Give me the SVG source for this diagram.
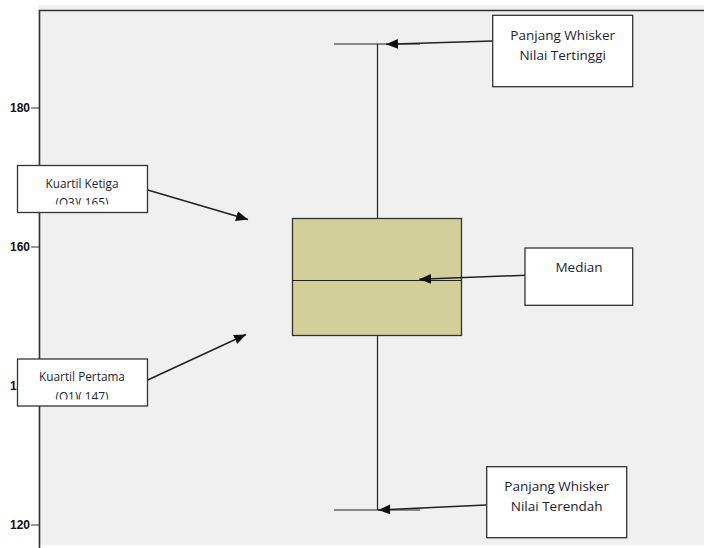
<svg xmlns="http://www.w3.org/2000/svg" width="704" height="548" viewBox="0 0 704 548">
<style>
.lbl{fill:#fff;stroke:#333;stroke-width:1.3}
.t{font-family:"Open Sans","Liberation Sans",sans-serif;fill:#222233;text-anchor:middle}
.ax{font-family:"Liberation Sans",Arial,sans-serif;font-weight:bold;font-size:12px;fill:#111;text-anchor:end}
.ln{stroke:#222;stroke-width:1.2;fill:none}
.ar{stroke:#222;stroke-width:1.5;fill:none;marker-end:url(#ah)}
</style>
<defs>
<marker id="ah" markerUnits="userSpaceOnUse" markerWidth="14" markerHeight="12" refX="12" refY="5" orient="auto">
<path d="M0,0 L12,5 L0,10 Z" fill="#111"/>
</marker>
<clipPath id="c1"><rect x="17" y="165" width="131" height="39.5"/></clipPath>
<clipPath id="c2"><rect x="17" y="359" width="131" height="40.5"/></clipPath>
</defs>
<rect x="0" y="0" width="704" height="548" fill="#fff"/>
<rect x="38" y="5" width="666" height="540" fill="#f0f0f0"/>
<g id="axis">
<path d="M39.5,548 V10.5 H704" stroke="#333" stroke-width="1.6" fill="none"/>
<path d="M31,108 H39 M31,247 H39 M31,386 H39 M31,525 H39" stroke="#333" stroke-width="1.2"/>
<text class="ax" x="30" y="112">180</text>
<text class="ax" x="30" y="251">160</text>
<text class="ax" x="30" y="390">140</text>
<text class="ax" x="30" y="529">120</text>
</g>
<g id="boxplot">
<path class="ln" d="M377.5,44 V218.5 M377.5,336 V510 M334,44 H420 M334,510 H420"/>
<rect x="292.5" y="218.5" width="169" height="117" fill="#d3cf98" stroke="#333" stroke-width="1.3"/>
<path class="ln" d="M292.5,280.5 H461.5"/>
</g>
<g id="connectors">
<path class="ar" d="M492.7,41 L386,44.3"/>
<path class="ar" d="M525,275.3 L419.3,279.3"/>
<path class="ar" d="M486,505 L378.3,510"/>
<path class="ar" d="M147.7,190 L248,219.5"/>
<path class="ar" d="M147.7,380 L246,334.5"/>
</g>
<g id="kuartil-ketiga">
<rect class="lbl" x="17.5" y="165.5" width="130" height="47"/>
<g clip-path="url(#c1)">
<text class="t" font-size="11.8" x="82" y="187.5">Kuartil Ketiga</text>
<text class="t" font-size="11.8" x="82" y="206.5">(Q3)( 165)</text>
</g>
</g>
<g id="kuartil-pertama">
<rect class="lbl" x="17.5" y="359" width="130" height="47"/>
<g clip-path="url(#c2)">
<text class="t" font-size="11.8" x="82" y="381">Kuartil Pertama</text>
<text class="t" font-size="11.8" x="82" y="401">(Q1)( 147)</text>
</g>
</g>
<g id="whisker-tinggi">
<rect class="lbl" x="492.7" y="15.3" width="140" height="71.4"/>
<text class="t" font-size="13.5" x="562.7" y="39.5">Panjang Whisker</text>
<text class="t" font-size="13.5" x="562.7" y="59.5">Nilai Tertinggi</text>
</g>
<g id="median">
<rect class="lbl" x="525" y="248" width="107.7" height="57.3"/>
<text class="t" font-size="13.5" x="579" y="272">Median</text>
</g>
<g id="whisker-rendah">
<rect class="lbl" x="486.7" y="466.7" width="140" height="71"/>
<text class="t" font-size="13.5" x="556.7" y="490.5">Panjang Whisker</text>
<text class="t" font-size="13.5" x="556.7" y="510.5">Nilai Terendah</text>
</g>
</svg>
